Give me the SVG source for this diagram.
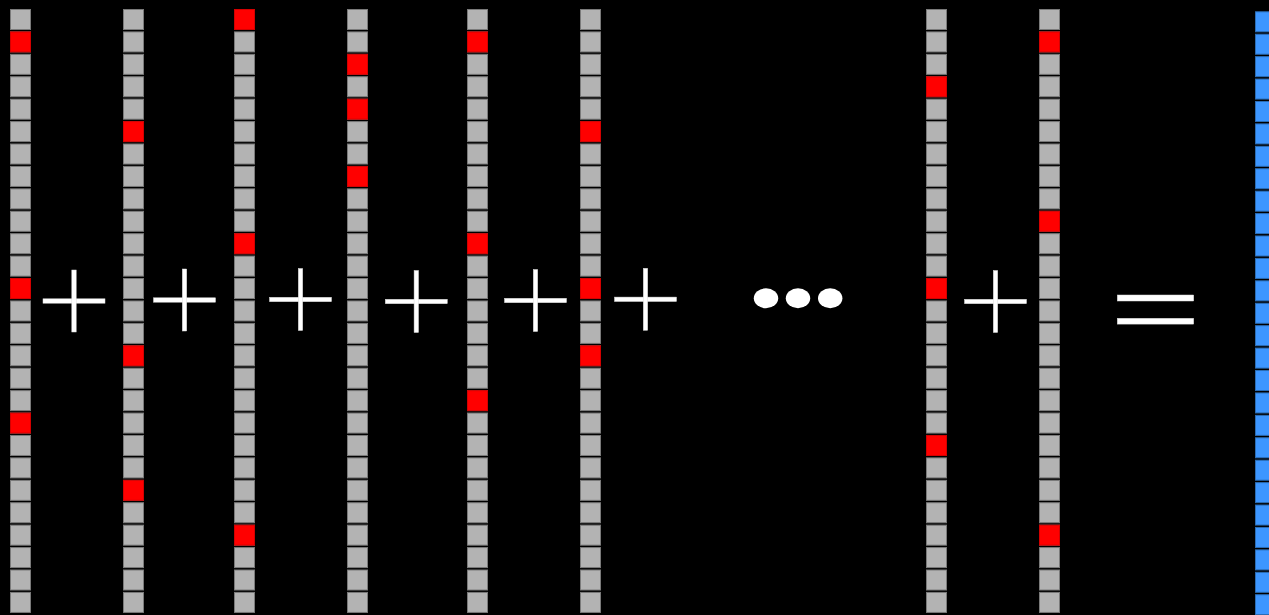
<svg xmlns="http://www.w3.org/2000/svg" xmlns:xlink="http://www.w3.org/1999/xlink" width="1269" height="615" viewBox="0 0 1269 615">
<style>
.gray{fill:#b3b3b3;stroke:#7a7a7a;stroke-width:1}
.blue{fill:#3d96ff;stroke:#2b6db5;stroke-width:1}
.red{fill:#ff0000;stroke:#d40000;stroke-width:1}
.bar{fill:#ffffff;stroke:#d9d9d9;stroke-width:0.5}
.dot{fill:#ffffff}
</style>
<defs>
<g id="colCells">
<rect x="0.5" y="9.5" width="20" height="20"/>
<rect x="0.5" y="31.92" width="20" height="20"/>
<rect x="0.5" y="54.34" width="20" height="20"/>
<rect x="0.5" y="76.76" width="20" height="20"/>
<rect x="0.5" y="99.18" width="20" height="20"/>
<rect x="0.5" y="121.6" width="20" height="20"/>
<rect x="0.5" y="144.02" width="20" height="20"/>
<rect x="0.5" y="166.44" width="20" height="20"/>
<rect x="0.5" y="188.86" width="20" height="20"/>
<rect x="0.5" y="211.28" width="20" height="20"/>
<rect x="0.5" y="233.7" width="20" height="20"/>
<rect x="0.5" y="256.12" width="20" height="20"/>
<rect x="0.5" y="278.54" width="20" height="20"/>
<rect x="0.5" y="300.96" width="20" height="20"/>
<rect x="0.5" y="323.38" width="20" height="20"/>
<rect x="0.5" y="345.8" width="20" height="20"/>
<rect x="0.5" y="368.22" width="20" height="20"/>
<rect x="0.5" y="390.64" width="20" height="20"/>
<rect x="0.5" y="413.06" width="20" height="20"/>
<rect x="0.5" y="435.48" width="20" height="20"/>
<rect x="0.5" y="457.9" width="20" height="20"/>
<rect x="0.5" y="480.32" width="20" height="20"/>
<rect x="0.5" y="502.74" width="20" height="20"/>
<rect x="0.5" y="525.16" width="20" height="20"/>
<rect x="0.5" y="547.58" width="20" height="20"/>
<rect x="0.5" y="570" width="20" height="20"/>
<rect x="0.5" y="592.42" width="20" height="20"/>
</g>
<g id="plus">
<rect class="bar" x="-31" y="-2.2" width="62" height="4.4"/>
<rect class="bar" x="-2.2" y="-31" width="4.4" height="62"/>
</g>
</defs>
<rect x="0" y="0" width="1269" height="615" fill="#000000"/>

<g id="col1">
<use xlink:href="#colCells" x="10" class="gray"/>
<rect class="red" x="10.5" y="31.92" width="20" height="20"/>
<rect class="red" x="10.5" y="278.54" width="20" height="20"/>
<rect class="red" x="10.5" y="413.06" width="20" height="20"/>
</g>
<g id="col2">
<use xlink:href="#colCells" x="123" class="gray"/>
<rect class="red" x="123.5" y="121.6" width="20" height="20"/>
<rect class="red" x="123.5" y="345.8" width="20" height="20"/>
<rect class="red" x="123.5" y="480.32" width="20" height="20"/>
</g>
<g id="col3">
<use xlink:href="#colCells" x="234" class="gray"/>
<rect class="red" x="234.5" y="9.5" width="20" height="20"/>
<rect class="red" x="234.5" y="233.7" width="20" height="20"/>
<rect class="red" x="234.5" y="525.16" width="20" height="20"/>
</g>
<g id="col4">
<use xlink:href="#colCells" x="347" class="gray"/>
<rect class="red" x="347.5" y="54.34" width="20" height="20"/>
<rect class="red" x="347.5" y="99.18" width="20" height="20"/>
<rect class="red" x="347.5" y="166.44" width="20" height="20"/>
</g>
<g id="col5">
<use xlink:href="#colCells" x="467" class="gray"/>
<rect class="red" x="467.5" y="31.92" width="20" height="20"/>
<rect class="red" x="467.5" y="233.7" width="20" height="20"/>
<rect class="red" x="467.5" y="390.64" width="20" height="20"/>
</g>
<g id="col6">
<use xlink:href="#colCells" x="580" class="gray"/>
<rect class="red" x="580.5" y="121.6" width="20" height="20"/>
<rect class="red" x="580.5" y="278.54" width="20" height="20"/>
<rect class="red" x="580.5" y="345.8" width="20" height="20"/>
</g>
<g id="col7">
<use xlink:href="#colCells" x="926" class="gray"/>
<rect class="red" x="926.5" y="76.76" width="20" height="20"/>
<rect class="red" x="926.5" y="278.54" width="20" height="20"/>
<rect class="red" x="926.5" y="435.48" width="20" height="20"/>
</g>
<g id="col8">
<use xlink:href="#colCells" x="1039" class="gray"/>
<rect class="red" x="1039.5" y="31.92" width="20" height="20"/>
<rect class="red" x="1039.5" y="211.28" width="20" height="20"/>
<rect class="red" x="1039.5" y="525.16" width="20" height="20"/>
</g>
<g id="sumCol">
<use xlink:href="#colCells" x="1255" y="2.3" class="blue"/>
</g>

<g id="operators">
<use xlink:href="#plus" x="74" y="301"/>
<use xlink:href="#plus" x="184.5" y="300"/>
<use xlink:href="#plus" x="300.5" y="299.5"/>
<use xlink:href="#plus" x="416.3" y="301.5"/>
<use xlink:href="#plus" x="535.5" y="300.5"/>
<use xlink:href="#plus" x="645.5" y="299.3"/>
<use xlink:href="#plus" x="995.5" y="301.5"/>
<ellipse class="dot" cx="766" cy="298.3" rx="12.2" ry="10"/>
<ellipse class="dot" cx="798" cy="298.3" rx="12.2" ry="10"/>
<ellipse class="dot" cx="830.2" cy="298.3" rx="12.2" ry="10"/>
<rect class="bar" x="1117.3" y="295" width="76.4" height="6"/>
<rect class="bar" x="1117.3" y="318.3" width="76.4" height="5.8"/>
</g>
</svg>
